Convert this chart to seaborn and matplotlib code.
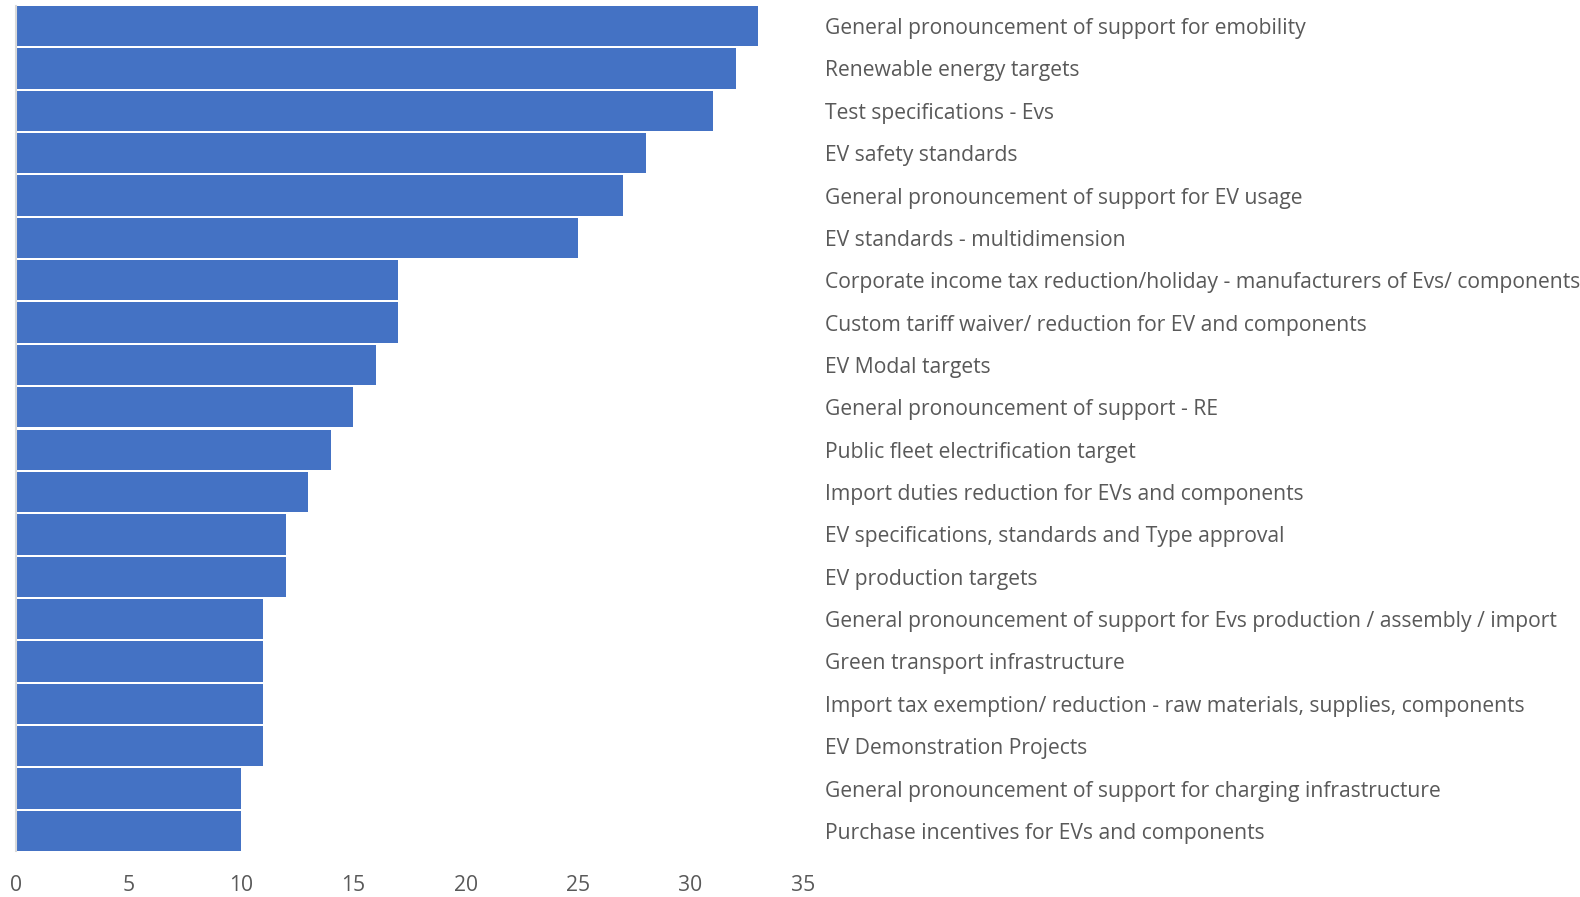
import matplotlib
matplotlib.use('Agg')
import matplotlib.pyplot as plt
import seaborn as sns
import pandas as pd

# policy measures and number of countries
measures = [
    "General pronouncement of support for emobility",
    "Renewable energy targets",
    "Test specifications - Evs",
    "EV safety standards",
    "General pronouncement of support for EV usage",
    "EV standards - multidimension",
    "Corporate income tax reduction/holiday - manufacturers of Evs/ components",
    "Custom tariff waiver/ reduction for EV and components",
    "EV Modal targets",
    "General pronouncement of support - RE",
    "Public fleet electrification target",
    "Import duties reduction for EVs and components",
    "EV specifications, standards and Type approval",
    "EV production targets",
    "General pronouncement of support for Evs production / assembly / import",
    "Green transport infrastructure",
    "Import tax exemption/ reduction - raw materials, supplies, components",
    "EV Demonstration Projects",
    "General pronouncement of support for charging infrastructure",
    "Purchase incentives for EVs and components",
]
counts = [33, 32, 31, 28, 27, 25, 17, 17, 16, 15, 14, 13, 12, 12, 11, 11, 11, 11, 10, 10]
x_ticks = [0, 5, 10, 15, 20, 25, 30, 35]

df = pd.DataFrame({"measure": measures, "count": counts})

sns.set_theme(style="white")
plt.rcParams['font.family'] = ['Open Sans', 'DejaVu Sans']

W, H = 1580, 897
fig = plt.figure(figsize=(W / 100, H / 100), dpi=100)
ax = fig.add_axes([16 / W, 1 - 851 / H, (803 - 16) / W, (851 - 6) / H])

sns.barplot(data=df, x="count", y="measure", orient="h", color="#4472C4",
            saturation=1, width=0.95, linewidth=0, ax=ax)

n = len(measures)
ax.set_ylim(n - 1 + 0.475, -0.475)
ax.set_xlim(0, 35)
ax.set_xticks(x_ticks)
ax.set_xlabel("")
ax.set_ylabel("")

ax.yaxis.tick_right()
ax.tick_params(axis="y", length=0, pad=16, labelsize=15.2, labelcolor="#595959")
ax.tick_params(axis="x", length=0, pad=17, labelsize=15.2, labelcolor="#595959")
for lab in ax.get_yticklabels():
    lab.set_horizontalalignment("left")

for s in ["top", "right", "bottom"]:
    ax.spines[s].set_visible(False)
ax.spines["left"].set_color("#D9D9D9")
ax.spines["left"].set_linewidth(1.5)

fig.savefig("out.png", dpi=100)
